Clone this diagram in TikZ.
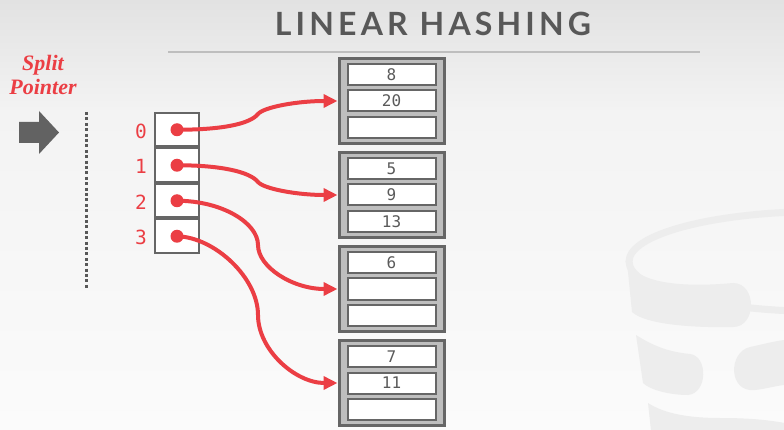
\documentclass[tikz,border=0pt]{standalone}
\usepackage{fontspec}
\usetikzlibrary{arrows.meta}
\newfontfamily\titlefont[LetterSpace=13]{Lato}
\newfontfamily\serifbi{Liberation Serif}
\newfontfamily\digitfont{DejaVu Sans Mono}

\definecolor{bgtop}{RGB}{226,226,226}
\definecolor{bgmid}{RGB}{243,243,243}
\definecolor{bgbot}{RGB}{251,251,251}
\definecolor{logocol}{RGB}{237,237,237}
\definecolor{titlegray}{RGB}{88,88,88}
\definecolor{rulegray}{RGB}{190,190,190}
\definecolor{hotred}{RGB}{235,62,68}
\definecolor{edgegray}{RGB}{102,102,102}
\definecolor{bucketfill}{RGB}{190,190,190}
\definecolor{numgray}{RGB}{90,90,90}
\definecolor{pointergray}{RGB}{98,98,98}

\begin{document}
\begin{tikzpicture}[x=1pt,y=-1pt,
  titletext/.style={font=\titlefont\bfseries\fontsize{32}{36}\selectfont, text=titlegray, inner sep=0pt},
  redlabel/.style={font=\serifbi\bfseries\itshape\fontsize{22}{24}\selectfont, text=hotred, inner sep=0pt},
  dirnum/.style={font=\digitfont\fontsize{19.5}{22}\selectfont, text=hotred, inner sep=0pt},
  dircell/.style={draw=edgegray, fill=white, line width=2pt, minimum width=44pt, minimum height=33.5pt, inner sep=0pt},
  dot/.style={circle, fill=hotred, minimum size=13pt, inner sep=0pt},
  bucket/.style={draw=edgegray, fill=bucketfill, line width=3pt, minimum width=105pt, minimum height=85pt, inner sep=0pt},
  slot/.style={draw=edgegray, fill=white, line width=2pt, minimum width=88pt, minimum height=21pt, inner sep=0pt,
    font=\digitfont\fontsize{16}{18}\selectfont, text=numgray},
  link/.style={draw=hotred, line width=4pt, -{Triangle[length=14pt,width=13pt]}},
]
\useasboundingbox (0,0) rectangle (784,430);

% page background
\shade[top color=bgtop, bottom color=bgmid] (0,0) rectangle (784,110);
\fill[bgmid] (0,109.5) rectangle (784,110.5);
\shade[top color=bgmid, bottom color=bgbot] (0,110) rectangle (784,430);

% faint database logo in the lower right corner
\begin{scope}
  \clip (0,0) rectangle (784,430);
  \draw[logocol, line width=7pt] (822,261.5) ellipse [x radius=193, y radius=50];
  \fill[logocol] (627,262) -- (632,312)
    .. controls (645,324) and (690,328) .. (733,327)
    .. controls (757,327) and (757,283) .. (733,283)
    .. controls (690,287) and (645,285) .. (630,266) -- cycle;
  \fill[logocol] (636,335)
    .. controls (655,347) and (670,352) .. (690,354)
    .. controls (708,356) and (708,393) .. (688,395)
    .. controls (670,395) and (650,390) .. (643,383) -- cycle;
  \fill[logocol] (784,340) .. controls (770,342) and (760,345) .. (750,347)
    .. controls (728,352) and (728,393) .. (755,390)
    .. controls (765,389) and (775,386) .. (784,385) -- cycle;
  \fill[logocol] (648,403) .. controls (665,414) and (690,418) .. (720,418)
    .. controls (750,418) and (770,420) .. (790,424) -- (790,440) -- (652,440) -- cycle;
\end{scope}

% title and rule
\node[titletext, anchor=base] (title) at (433,36) {LINEAR HASHING};
\draw[rulegray, line width=2pt] (168,52) -- (700,52);

% split pointer marker
\node[redlabel, anchor=base] (splitA) at (43,71) {Split};
\node[redlabel, anchor=base] (splitB) at (43,95) {Pointer};
\fill[pointergray] (19,122) -- (39,122) -- (39,111) -- (59,132.5) -- (39,154) -- (39,143) -- (19,143) -- cycle;
\draw[pointergray!90!black, line width=3pt, dash pattern=on 3pt off 2.4pt] (86,112) -- (86,290);

% directory
\foreach \i in {0,1,2,3} {
  \node[dircell] (d\i) at (177,{129.75+35.5*\i}) {};
  \node[dirnum] (n\i) at (141,{131+35.5*\i}) {\i};
}

% buckets with their slots
\foreach \b/\cy/\ka/\kb/\kc in {1/101/8/20/{}, 2/195/5/9/13, 3/289/6/{}/{}, 4/383/7/11/{}} {
  \node[bucket] (b\b) at (391.5,\cy) {};
  \node[slot] (b\b s1) at (391.5,\cy-26.3) {\ka};
  \node[slot] (b\b s2) at (391.5,\cy) {\kb};
  \node[slot] (b\b s3) at (391.5,\cy+26.3) {\kc};
}

% bends of the pointer curves
\coordinate (m0) at (258,114);
\coordinate (m1) at (258,182);
\coordinate (m2) at (258,245);
\coordinate (m3) at (258,315);

% pointer curves
\draw[link] (d0.center) .. controls +(45,0) and +(-8,10) .. (m0)
  .. controls +(6,-7) and +(-40,0) .. (b1.west |- b1s2);
\draw[link] (d1.center) .. controls +(45,0) and +(-8,-10) .. (m1)
  .. controls +(6,7) and +(-40,0) .. (b2.west |- b2s2);
\draw[link] (d2.center) .. controls +(45,0) and +(0,-22) .. (m2)
  .. controls +(0,22) and +(-45,0) .. (b3.west |- b3s2);
\draw[link] (d3.center) .. controls +(38,1) and +(0,-37) .. (m3)
  .. controls +(0,35) and +(-42,0) .. (b4.west |- b4s2);

% pointer origins
\foreach \i in {0,1,2,3} {
  \node[dot] (p\i) at (d\i.center) {};
}
\end{tikzpicture}
\end{document}
